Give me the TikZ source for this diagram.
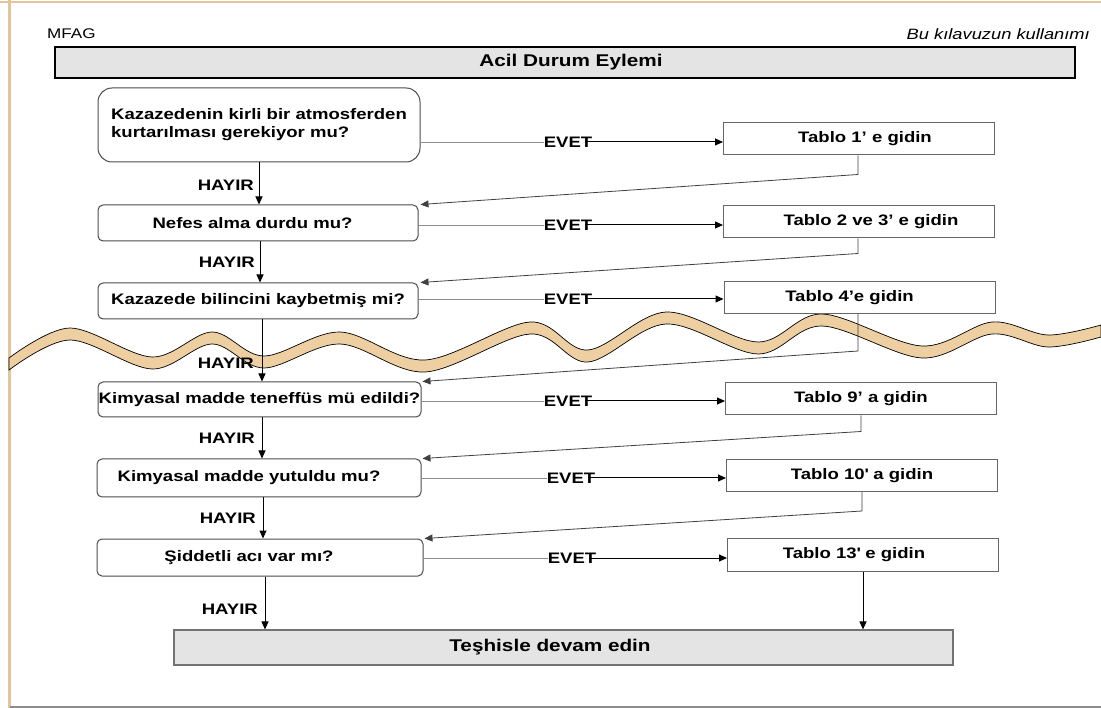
\documentclass[tikz,border=0pt]{standalone}
\usepackage{fontspec}
\setmainfont{Liberation Sans}[FakeStretch=1.22]
\usetikzlibrary{arrows.meta,calc}
\definecolor{tanc}{HTML}{EDCFA2}
\definecolor{tanb}{HTML}{E2C59C}
\definecolor{boxfill}{HTML}{E4E4E4}
\begin{document}
\begin{tikzpicture}[x=1pt,y=-1pt,
  txt/.style={font=\fontsize{15.2}{18}\selectfont\bfseries},
  qbox/.style={draw=black!70, line width=1pt, rounded corners=5pt, fill=white, inner sep=0pt, txt, align=center},
  tbox/.style={draw=black!60, line width=1pt, fill=white, minimum width=271pt, minimum height=32pt, inner sep=0pt, txt},
  gbox/.style={draw=black!55, line width=1.1pt, fill=boxfill, inner sep=0pt, font=\fontsize{17}{18}\selectfont\bfseries},
  lbl/.style={txt, inner sep=0pt},
  tip/.style={-{Triangle[length=8pt,width=7pt]}},
  arr/.style={tip, line width=1pt, black},
  feed/.style={tip, line width=0.8pt, black!75},
  yesl/.style={line width=0.9pt, black!45},
]
\useasboundingbox (0,0) rectangle (1101,708);
% page frame
\draw[tanb, line width=2.5pt] (0,2) -- (1101,2);
\draw[tanb, line width=3pt] (9.5,0) -- (9.5,708);
\draw[black!45, line width=1.5pt] (9.5,707) -- (1101,707);

% header
\node[anchor=west, inner sep=0pt, font=\fontsize{14}{15}\selectfont] (mfag) at (47,34) {MFAG};
\node[anchor=east, inner sep=0pt, font=\fontsize{15}{16}\selectfont\itshape] (hdr) at (1090,34) {Bu kılavuzun kullanımı};
\node[gbox, draw=black, minimum width=1020pt, minimum height=31pt] (title) at (565,62.5) {\hspace*{12pt}Acil Durum Eylemi};

% wave band
\draw[black, line width=0.7pt, fill=tanc]
  plot[smooth, tension=0.55] coordinates {(9,358) (70,328) (152,357) (212,332) (264,356) (340,332) (425,360) (530,322) (588,350) (666,312) (758,342) (822,314) (922,346) (992,322) (1048,335) (1101,325)}
  -- plot[smooth, tension=0.55] coordinates {(1101,337) (1048,347) (992,334) (922,358) (822,326) (758,354) (666,324) (588,362) (530,334) (425,372) (340,344) (264,368) (212,344) (152,369) (70,340) (9,370)}
  -- cycle;

% question boxes
\node[qbox, rounded corners=14pt, minimum width=322pt, minimum height=74pt, align=left] (b1) at (259,125) {Kazazedenin kirli bir atmosferden\\kurtarılması gerekiyor mu?};
\node[qbox, minimum width=320pt, minimum height=36pt] (b2) at (258,223) {\hspace*{-11pt}Nefes alma durdu mu?};
\node[qbox, minimum width=320pt, minimum height=36pt] (b3) at (258,301) {Kazazede bilincini kaybetmiş mi?};
\node[qbox, minimum width=323pt, minimum height=35pt] (b4) at (259.5,399.5) {Kimyasal madde teneffüs mü edildi?};
\node[qbox, minimum width=324pt, minimum height=38pt] (b5) at (259,478) {\hspace*{-20pt}Kimyasal madde yutuldu mu?};
\node[qbox, minimum width=326pt, minimum height=37pt] (b6) at (260,557.5) {\hspace*{-22pt}Şiddetli acı var mı?};

% table boxes
\node[tbox] (r1) at (859,139) {\hspace*{12pt}Tablo 1’ e gidin};
\node[tbox] (r2) at (859,222) {\hspace*{24pt}Tablo 2 ve 3’ e gidin};
\node[tbox] (r3) at (859.5,297.5) {\hspace*{-20pt}Tablo 4’e gidin};
\node[tbox] (r4) at (861,399) {Tablo 9’ a gidin};
\node[tbox] (r5) at (862,475.5) {Tablo 10\textquotesingle{} a gidin};
\node[tbox, minimum height=33pt] (r6) at (863,554.5) {\hspace*{-18pt}Tablo 13\textquotesingle{} e gidin};

% final box
\node[gbox, minimum width=779pt, minimum height=35pt] (fin) at (563.5,647.5) {\hspace*{-27pt}Teşhisle devam edin};

% EVET labels and connectors
\node[lbl] (e1) at (568,142) {EVET};
\node[lbl] (e2) at (568,225) {EVET};
\node[lbl] (e3) at (568,299) {EVET};
\node[lbl] (e4) at (568,401) {EVET};
\node[lbl] (e5) at (571,478) {EVET};
\node[lbl] (e6) at (572,558) {EVET};
\foreach \b/\e/\r in {b1/e1/r1,b2/e2/r2,b3/e3/r3,b4/e4/r4,b5/e5/r5,b6/e6/r6}{
  \draw[yesl] (\b.east |- \e) -- (\e.west);
  \draw[arr] ([xshift=-7pt]\e.east) -- (\r.west |- \e);
}

% HAYIR arrows
\draw[arr] (b1.south) -- (b1.south |- b2.north);
\draw[arr] ([xshift=2pt]b2.south) -- ([xshift=2pt]b2.south |- b3.north);
\draw[arr] ([xshift=4pt]b3.south) -- ([xshift=4pt]b3.south |- b4.north);
\draw[arr] ([xshift=2.5pt]b4.south) -- ([xshift=2.5pt]b4.south |- b5.north);
\draw[arr] ([xshift=4pt]b5.south) -- ([xshift=4pt]b5.south |- b6.north);
\draw[arr] ([xshift=5pt]b6.south) -- ([xshift=5pt]b6.south |- fin.north);
\node[lbl, anchor=east] (h1) at (254,185) {HAYIR};
\node[lbl, anchor=east] (h2) at (255,262) {HAYIR};
\node[lbl, anchor=east] (h3) at (254,363) {HAYIR};
\node[lbl, anchor=east] (h4) at (255,438) {HAYIR};
\node[lbl, anchor=east] (h5) at (256,518) {HAYIR};
\node[lbl, anchor=east] (h6) at (258,609) {HAYIR};

% feedback lines
\draw[feed] ([xshift=-1pt]r1.south) -- ++(0,19) -- ([xshift=2pt]b2.north east);
\draw[feed] ([xshift=-1pt]r2.south) -- ++(0,15) -- ([xshift=2pt]b3.north east);
\draw[feed] ([xshift=-1.5pt]r3.south) -- ++(0,37) -- ([xshift=1pt]b4.north east);
\draw[feed] (r4.south) -- ++(0,16) -- ([xshift=1pt]b5.north east);
\draw[feed] (r5.south) -- ++(0,19) -- ([xshift=1pt]b6.north east);
\draw[arr] (r6.south) -- (r6.south |- fin.north);
\end{tikzpicture}
\end{document}
